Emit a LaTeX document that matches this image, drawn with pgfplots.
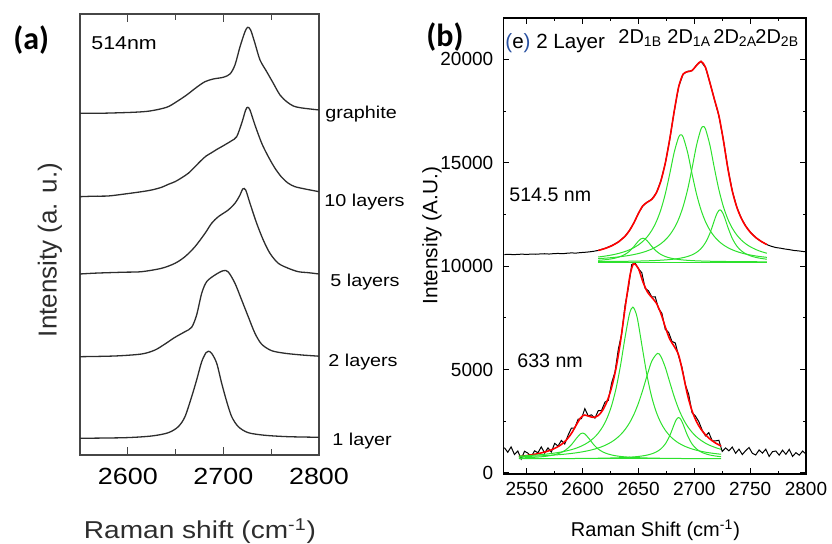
\documentclass[border=0pt]{standalone}
\usepackage{pgfplots}
\pgfplotsset{compat=1.18}
\usepackage{fontspec}
\setmainfont{Liberation Sans}
\newfontfamily\afont[FakeStretch=1.15]{Liberation Sans}
\newfontfamily\calfont{Carlito}
\definecolor{fitgreen}{RGB}{45,225,45}
\definecolor{agray}{RGB}{70,70,70}
\definecolor{cgray}{RGB}{45,45,45}
\definecolor{eblue}{RGB}{40,80,160}
\pgfplotsset{acurve/.style={cgray, line width=0.65pt, smooth, tension=0.5, mark=none}}
\begin{document}
\begin{tikzpicture}
\path[use as bounding box] (0,0) rectangle (416pt,272pt);
% ---------------- panel (a)
\begin{axis}[at={(40pt,44.5pt)}, anchor=south west, scale only axis,
  width=119.5pt, height=220.5pt,
  xmin=2550, xmax=2800, ymin=0, ymax=441,
  xtick={2600,2700,2800}, xticklabels={2600,2700,2800},
  minor xtick={2650,2750}, ytick=\empty,
  tick align=inside, xtick pos=both,
  major tick length=4pt, minor tick length=3pt,
  tick style={agray, line width=0.6pt},
  axis line style={agray, line width=0.6pt},
  xticklabel style={font=\afont\fontsize{11.7}{13}\selectfont, yshift=-3pt}]
\addplot[acurve] coordinates {(2550,341.7)(2571,341.7)(2605.8,342.7)(2623.2,344)(2640.7,347.7)(2651.1,353.3)(2661.6,360)(2672,367.7)(2680.8,373.3)(2689.5,376)(2699.9,377.7)(2706.9,381)(2712.1,390)(2717.4,408.3)(2722.6,423.3)(2725.4,427.7)(2728.5,425)(2733,411.7)(2738.3,395)(2745.3,383.3)(2752.2,371.7)(2759.2,360)(2766.2,353.3)(2773.1,349)(2780.1,347.3)(2790.6,346)(2800,345)};
\addplot[acurve] coordinates {(2550,258.3)(2565,258.8)(2579.6,259)(2597,261)(2614.5,263.3)(2625,265)(2635.4,267.7)(2642,270.5)(2649.4,273.3)(2656,277)(2663.3,281.7)(2670,288)(2677.3,295)(2682,299)(2687.7,302.3)(2693,305.5)(2698.2,308.3)(2703,311)(2708.7,314.3)(2713.9,318.3)(2719.1,331.7)(2723.3,345)(2725.4,347.7)(2727.8,345)(2733,330)(2740.1,311.7)(2747,298.3)(2754,286.7)(2761,277.7)(2767.9,271.7)(2774.9,268.3)(2785.4,266)(2800,263.3)};
\addplot[acurve] coordinates {(2550,181)(2565,181.8)(2579.6,182.3)(2597,182.8)(2614.5,183.3)(2635.4,186.7)(2649.4,191.7)(2659.8,198.3)(2670.3,208.3)(2680.8,221.7)(2687.7,231.7)(2694.7,238.3)(2705.1,245)(2712.1,251.7)(2717.4,260)(2720.2,266)(2723.3,265)(2727.8,251.7)(2734.8,231.7)(2741.7,215)(2748.7,201.7)(2757.4,191.7)(2767.9,186.7)(2778.3,183.3)(2788.8,182.3)(2800,181)};
\addplot[acurve] coordinates {(2550,98.3)(2586.6,99)(2614.5,101)(2628.5,105)(2638.9,111)(2649.4,117.7)(2659.8,123.3)(2666.8,127.7)(2672,140)(2677.3,161.7)(2682.5,173.3)(2691.2,180)(2699.9,184.3)(2705.1,183)(2712.1,171.7)(2719.1,155)(2726,138.3)(2733,121.7)(2740.1,110.7)(2750.5,104.3)(2764.4,101.7)(2781.9,100)(2800,98.8)};
\addplot[acurve] coordinates {(2550,16.7)(2597.1,17.3)(2625,19)(2642.4,22.3)(2652.8,28.3)(2659.8,38.3)(2666.8,58.3)(2672,75)(2677.3,93.3)(2681.8,102.3)(2684.2,103.7)(2687.7,101.7)(2693,91.7)(2698.2,71.7)(2703.5,53.3)(2708.7,38.3)(2715.6,28.3)(2726,22.3)(2743.5,19.7)(2767.9,18.3)(2800,17.7)};
\end{axis}
% ---------------- panel (b)
\begin{axis}[at={(251.65pt,35pt)}, anchor=south west, scale only axis,
  width=151.35pt, height=228pt,
  xmin=2529, xmax=2800, ymin=-50, ymax=22000,
  scaled ticks=false,
  xtick={2550,2600,2650,2700,2750,2800}, xticklabels={2550,2600,2650,2700,2750,2800},
  minor xtick={2575,2625,2675,2725,2775},
  ytick={0,5000,10000,15000,20000}, yticklabels={0,5000,10000,15000,20000},
  minor ytick={2500,7500,12500,17500},
  tick align=inside, xtick pos=both, ytick pos=both,
  major tick length=3pt, minor tick length=1.6pt,
  tick style={black, line width=0.5pt},
  axis line style={black, line width=0.6pt},
  xticklabel style={font=\fontsize{9.5}{11}\selectfont, yshift=-0.7pt},
  yticklabel style={font=\fontsize{9.5}{11}\selectfont, xshift=-1.5pt}]
% 514.5 nm raw
\addplot[black, line width=0.5pt, mark=none] coordinates {(2530,10560)(2534,10575)(2538,10555)(2542,10570)(2546,10580)(2550,10565)(2554,10585)(2558,10575)(2562,10590)(2566,10600)(2570,10585)(2574,10605)(2578,10615)(2582,10600)(2586,10625)(2590,10640)(2594,10630)(2598,10655)(2602,10670)(2606,10690)(2610,10720)(2614,10760)(2620,10860)(2626,10990)(2632,11170)(2638,11440)(2642,11730)(2646,12100)(2650,12560)(2654,12920)(2658,13100)(2662,13240)(2666,13540)(2670,14110)(2674,14970)(2678,16130)(2682,17480)(2686,18680)(2690,19280)(2694,19420)(2698,19450)(2702,19720)(2706,19900)(2710,19610)(2714,18870)(2718,18060)(2722,17270)(2726,16110)(2730,14750)(2734,13640)(2738,12860)(2742,12330)(2746,11940)(2750,11650)(2755,11380)(2760,11190)(2765,11040)(2769,10960)(2773,10900)(2777,10870)(2781,10830)(2785,10800)(2789,10760)(2793,10740)(2797,10710)(2800,10700)};
% 633 nm raw
\addplot[black, line width=0.5pt, mark=none] coordinates {(2530,1220)(2533,1000)(2536,1260)(2539,890)(2542,1060)(2545,670)(2548,1048)(2551,959)(2554,785)(2557,1071)(2560,975)(2563,1260)(2566,963)(2569,1212)(2572,1012)(2575,1431)(2578,1299)(2581,1574)(2584,1400)(2587,1824)(2590,2172)(2593,2174)(2596,2601)(2599,2628)(2602,3110)(2605,2760)(2608,2811)(2611,2650)(2614,3008)(2617,3021)(2620,3425)(2623,3512)(2626,4351)(2629,4883)(2632,5987)(2635,6736)(2638,8096)(2641,8953)(2644,10080)(2647,10155)(2650,9872)(2653,9683)(2656,8928)(2659,8806)(2662,8506)(2665,8520)(2668,7945)(2671,7720)(2674,6944)(2677,6799)(2680,6358)(2683,6285)(2686,5638)(2689,5102)(2692,4265)(2695,3798)(2698,2911)(2701,2750)(2704,2487)(2707,2076)(2710,1794)(2713,1950)(2716,1555)(2719,1549)(2722,1580)(2725,1040)(2728,1210)(2731,1070)(2734,1250)(2737,950)(2740,1150)(2743,890)(2746,1080)(2749,1230)(2752,950)(2755,870)(2758,1110)(2761,960)(2764,1150)(2767,800)(2770,1030)(2773,1060)(2776,860)(2779,1100)(2782,900)(2785,1140)(2788,800)(2791,980)(2794,860)(2797,1060)(2800,910)};
% fits
\addplot[red, line width=0.8pt, smooth, mark=none] coordinates {(2614,10758)(2620,10853)(2626,10983)(2632,11168)(2638,11449)(2642,11726)(2646,12102)(2650,12552)(2654,12923)(2658,13095)(2662,13233)(2666,13543)(2670,14109)(2674,14972)(2678,16137)(2682,17482)(2686,18665)(2690,19286)(2694,19401)(2698,19459)(2702,19706)(2706,19902)(2710,19617)(2714,18861)(2718,18064)(2722,17277)(2726,16101)(2730,14740)(2734,13638)(2738,12862)(2742,12323)(2746,11936)(2750,11650)(2755,11386)(2760,11193)(2765,11045)};
\addplot[red, line width=0.8pt, smooth, mark=none] coordinates {(2543,794)(2550,841)(2556,892)(2562,956)(2568,1042)(2574,1162)(2580,1338)(2585,1566)(2590,1912)(2594,2288)(2598,2654)(2600,2763)(2602,2800)(2606,2735)(2610,2687)(2614,2778)(2618,3035)(2622,3476)(2626,4141)(2630,5091)(2634,6383)(2638,7956)(2642,9419)(2644,9902)(2646,10127)(2650,9882)(2654,9243)(2658,8752)(2662,8486)(2666,8213)(2670,7725)(2674,7064)(2678,6474)(2682,6121)(2686,5698)(2690,4773)(2694,3757)(2698,3001)(2702,2480)(2706,2113)(2710,1844)(2714,1641)(2719,1449)(2724,1302)};
% 514.5 components
\addplot[fitgreen, line width=0.5pt, mark=none] coordinates {(2614,10200)(2765,10200)};
\addplot[fitgreen, line width=0.5pt, smooth, mark=none] coordinates {(2614,10281)(2620,10309)(2626,10354)(2632,10430)(2638,10569)(2642,10725)(2646,10952)(2648,11087)(2650,11216)(2652,11313)(2654,11350)(2656,11313)(2658,11216)(2660,11087)(2662,10952)(2666,10725)(2670,10569)(2674,10467)(2678,10400)(2682,10354)(2686,10322)(2690,10298)(2694,10281)(2698,10268)(2702,10257)(2706,10249)(2710,10243)(2714,10237)(2718,10233)(2722,10229)(2726,10226)(2730,10224)(2734,10221)(2738,10219)(2742,10218)(2746,10216)(2750,10215)(2755,10213)(2760,10212)(2765,10211)};
\addplot[fitgreen, line width=0.5pt, smooth, mark=none] coordinates {(2614,10443)(2620,10485)(2626,10540)(2632,10612)(2638,10708)(2642,10791)(2646,10896)(2650,11029)(2654,11202)(2658,11430)(2662,11736)(2666,12152)(2670,12720)(2674,13487)(2678,14458)(2682,15501)(2686,16242)(2688,16350)(2690,16242)(2694,15501)(2698,14458)(2702,13487)(2706,12720)(2710,12152)(2714,11736)(2718,11430)(2722,11202)(2726,11029)(2730,10896)(2734,10791)(2738,10708)(2742,10641)(2746,10586)(2750,10540)(2755,10494)(2760,10456)(2765,10425)};
\addplot[fitgreen, line width=0.5pt, smooth, mark=none] coordinates {(2614,10363)(2620,10385)(2626,10412)(2632,10446)(2638,10488)(2642,10522)(2646,10562)(2650,10611)(2654,10669)(2658,10741)(2662,10829)(2666,10941)(2670,11083)(2674,11267)(2678,11510)(2682,11836)(2686,12279)(2690,12884)(2694,13701)(2698,14735)(2702,15846)(2706,16635)(2708,16750)(2710,16635)(2714,15846)(2718,14735)(2722,13701)(2726,12884)(2730,12279)(2734,11836)(2738,11510)(2742,11267)(2746,11083)(2750,10941)(2755,10805)(2760,10703)(2765,10624)};
\addplot[fitgreen, line width=0.5pt, smooth, mark=none] coordinates {(2614,10221)(2620,10224)(2626,10227)(2632,10230)(2638,10234)(2642,10238)(2646,10242)(2650,10246)(2654,10252)(2658,10258)(2662,10266)(2666,10275)(2670,10287)(2674,10301)(2678,10319)(2682,10341)(2686,10372)(2690,10412)(2694,10468)(2698,10548)(2702,10666)(2706,10848)(2710,11137)(2714,11592)(2718,12216)(2720,12512)(2722,12695)(2723,12720)(2724,12695)(2726,12512)(2728,12216)(2730,11891)(2734,11340)(2738,10975)(2742,10747)(2746,10601)(2750,10504)(2755,10424)(2760,10372)(2765,10335)};
% 633 components
\addplot[fitgreen, line width=0.5pt, mark=none] coordinates {(2543,680)(2724,680)};
\addplot[fitgreen, line width=0.5pt, smooth, mark=none] coordinates {(2543,725)(2550,738)(2556,754)(2562,777)(2568,812)(2574,870)(2580,970)(2585,1117)(2590,1365)(2594,1643)(2598,1890)(2600,1930)(2602,1890)(2606,1643)(2610,1365)(2614,1157)(2618,1020)(2622,930)(2626,870)(2630,828)(2634,798)(2638,777)(2642,760)(2646,748)(2650,738)(2654,730)(2658,723)(2662,718)(2666,714)(2670,710)(2674,707)(2678,704)(2682,702)(2686,700)(2690,698)(2694,697)(2698,696)(2702,694)(2706,693)(2710,692)(2714,692)(2719,691)(2724,690)};
\addplot[fitgreen, line width=0.5pt, smooth, mark=none] coordinates {(2543,816)(2550,836)(2556,857)(2562,883)(2568,915)(2574,955)(2580,1005)(2585,1059)(2590,1126)(2594,1194)(2598,1278)(2602,1384)(2606,1518)(2610,1692)(2614,1923)(2618,2235)(2622,2664)(2626,3263)(2630,4097)(2634,5218)(2638,6552)(2642,7698)(2645,8020)(2648,7698)(2650,7190)(2654,5874)(2658,4622)(2662,3647)(2666,2938)(2670,2432)(2674,2067)(2678,1800)(2682,1599)(2686,1446)(2690,1328)(2694,1234)(2698,1159)(2702,1098)(2706,1047)(2710,1005)(2714,970)(2719,934)(2724,904)};
\addplot[fitgreen, line width=0.5pt, smooth, mark=none] coordinates {(2543,785)(2550,798)(2556,811)(2562,826)(2568,843)(2574,864)(2580,889)(2585,914)(2590,944)(2594,972)(2598,1005)(2602,1043)(2606,1089)(2610,1142)(2614,1207)(2618,1286)(2622,1383)(2626,1504)(2630,1656)(2634,1849)(2638,2099)(2642,2421)(2646,2840)(2650,3376)(2654,4032)(2658,4760)(2662,5414)(2667,5780)(2670,5642)(2674,5110)(2678,4393)(2682,3690)(2686,3092)(2690,2617)(2694,2249)(2698,1966)(2702,1747)(2706,1576)(2710,1440)(2714,1332)(2719,1226)(2724,1142)};
\addplot[fitgreen, line width=0.5pt, smooth, mark=none] coordinates {(2543,688)(2562,690)(2580,694)(2598,701)(2610,708)(2622,719)(2634,738)(2642,760)(2650,798)(2654,827)(2658,867)(2662,927)(2666,1017)(2670,1161)(2674,1400)(2678,1797)(2682,2350)(2684,2586)(2686,2680)(2688,2586)(2690,2350)(2694,1797)(2698,1400)(2702,1161)(2706,1017)(2710,927)(2714,867)(2719,818)(2724,786)};
\end{axis}
% ---------------- texts panel (a)
\node[anchor=base west, inner sep=0pt, font=\calfont\bfseries\fontsize{16}{18}\selectfont] at (6.5pt,247pt) {(a)};
\node[anchor=base west, inner sep=0pt, font=\afont\fontsize{9.3}{11}\selectfont] at (45.5pt,247pt) {514nm};
\node[anchor=base west, inner sep=0pt, font=\afont\fontsize{8.6}{10}\selectfont] at (162.5pt,212.5pt) {graphite};
\node[anchor=base west, inner sep=0pt, font=\afont\fontsize{8.6}{10}\selectfont] at (162pt,168.65pt) {10 layers};
\node[anchor=base west, inner sep=0pt, font=\afont\fontsize{8.6}{10}\selectfont] at (165pt,128.5pt) {5 layers};
\node[anchor=base west, inner sep=0pt, font=\afont\fontsize{8.6}{10}\selectfont] at (164pt,88.85pt) {2 layers};
\node[anchor=base west, inner sep=0pt, font=\afont\fontsize{8.6}{10}\selectfont] at (166pt,49pt) {1 layer};
\node[rotate=90, inner sep=0pt, font=\fontsize{13}{15}\selectfont, text=cgray] at (25pt,147pt) {Intensity (a. u.)};
\node[anchor=base, inner sep=0pt, font=\afont\fontsize{12.2}{14}\selectfont, text=cgray] at (100pt,2.5pt) {Raman shift (cm\textsuperscript{-1})};
% ---------------- texts panel (b)
\node[anchor=base west, inner sep=0pt, font=\calfont\bfseries\fontsize{16}{18}\selectfont] at (213pt,248.65pt) {(b)};
\node[anchor=base west, inner sep=0pt, font=\fontsize{10.3}{12}\selectfont] at (252.5pt,247.85pt) {\textcolor{eblue}{(}e\textcolor{eblue}{)} 2 Layer};
\node[anchor=base west, inner sep=0pt, font=\fontsize{10}{12}\selectfont] at (309pt,250.35pt) {2D\textsubscript{1B}};
\node[anchor=base west, inner sep=0pt, font=\fontsize{10}{12}\selectfont] at (333.5pt,250.35pt) {2D\textsubscript{1A}};
\node[anchor=base west, inner sep=0pt, font=\fontsize{10}{12}\selectfont] at (356.5pt,250.35pt) {2D\textsubscript{2A}};
\node[anchor=base west, inner sep=0pt, font=\fontsize{10}{12}\selectfont] at (377.5pt,250.35pt) {2D\textsubscript{2B}};
\node[anchor=base west, inner sep=0pt, font=\fontsize{9.8}{12}\selectfont] at (254.5pt,171.15pt) {514.5 nm};
\node[anchor=base west, inner sep=0pt, font=\fontsize{9.8}{12}\selectfont] at (258.5pt,88.35pt) {633 nm};
\node[rotate=90, inner sep=0pt, font=\fontsize{10.4}{12}\selectfont] at (216pt,154.25pt) {Intensity (A.U.)};
\node[anchor=base, inner sep=0pt, font=\fontsize{10}{12}\selectfont] at (327.75pt,3.5pt) {Raman Shift (cm\textsuperscript{-1})};
\end{tikzpicture}
\end{document}
